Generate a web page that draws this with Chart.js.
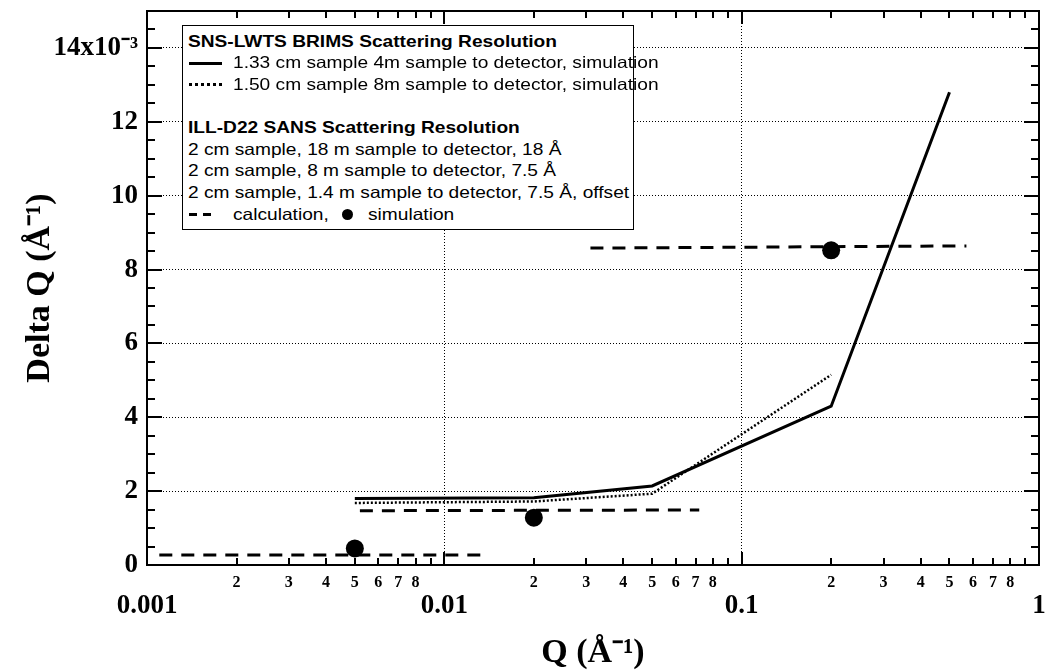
<!DOCTYPE html>
<html>
<head>
<meta charset="utf-8">
<script src="https://cdn.jsdelivr.net/npm/chart.js@4.4.1/dist/chart.umd.min.js"></script>
<style>
html,body{margin:0;padding:0;background:#fff;}
#wrap{position:relative;width:1048px;height:670px;overflow:hidden;}
canvas{display:block;}
#legend{position:absolute;left:182px;top:25px;width:452px;height:205px;border:1.5px solid #000;background:#fff;box-sizing:border-box;
  font-family:'Liberation Sans',Arial,sans-serif;font-size:16.5px;color:#000;}
#legend .t{position:absolute;height:21.6px;line-height:21.6px;white-space:nowrap;transform:scaleX(1.16);transform-origin:0 50%;}
#legend .b{font-weight:bold;}
#legend .ln{position:absolute;height:0;}
#legend .dot{position:absolute;width:11px;height:11px;border-radius:50%;background:#000;}
</style>
</head>
<body>
<div id="wrap">
<canvas id="c" width="1048" height="670"></canvas>
<div id="legend">
  <span class="t b" style="left:4.5px;top:4.7px">SNS-LWTS BRIMS Scattering Resolution</span>
  <span class="ln" style="left:5.5px;top:35.6px;width:33px;border-top:3px solid #000"></span>
  <span class="t" style="left:49.5px;top:26.3px">1.33 cm sample 4m sample to detector, simulation</span>
  <span class="ln" style="left:5.5px;top:57.2px;width:33px;border-top:3px dotted #000"></span>
  <span class="t" style="left:49.5px;top:47.9px">1.50 cm sample 8m sample to detector, simulation</span>
  <span class="t b" style="left:4.5px;top:91.1px">ILL-D22 SANS Scattering Resolution</span>
  <span class="t" style="left:4.5px;top:112.7px">2 cm sample, 18 m sample to detector, 18 Å</span>
  <span class="t" style="left:4.5px;top:134.3px">2 cm sample, 8 m sample to detector, 7.5 Å</span>
  <span class="t" style="left:4.5px;top:155.9px">2 cm sample, 1.4 m sample to detector, 7.5 Å, offset</span>
  <span class="ln" style="left:5.5px;top:186.8px;width:8px;border-top:3px solid #000"></span>
  <span class="ln" style="left:19.5px;top:186.8px;width:8px;border-top:3px solid #000"></span>
  <span class="t" style="left:49.5px;top:177.5px">calculation,</span>
  <span class="dot" style="left:159px;top:182.8px"></span>
  <span class="t" style="left:184.5px;top:177.5px">simulation</span>
</div>
</div>
<script>
// ---- data (Q in 1/Å, Delta Q in 1/Å) ----
const solidQ  = [0.005, 0.02, 0.05, 0.2, 0.5];
const solidDQ = [1.80e-3, 1.82e-3, 2.14e-3, 4.30e-3, 12.8e-3];

const dottedQ  = [0.005, 0.02, 0.05, 0.2];
const dottedDQ = [1.68e-3, 1.72e-3, 1.93e-3, 5.15e-3];

const calc18Q  = [0.0011, 0.0135];
const calc18DQ = [0.27e-3, 0.27e-3];
const calc8Q   = [0.0052, 0.072];
const calc8DQ  = [1.47e-3, 1.49e-3];
const calc14Q  = [0.031, 0.57];
const calc14DQ = [8.58e-3, 8.64e-3];

const simQ  = [0.005, 0.02, 0.2];
const simDQ = [0.45e-3, 1.28e-3, 8.52e-3];

// ---- ticks ----
const xDecades     = [0.001, 0.01, 0.1];
const xMajorLabels = ['0.001', '0.01', '0.1', '1'];
const xMinorLabels = ['2', '3', '4', '5', '6', '7', '8', ''];
const yTickLabels  = ['0', '2', '4', '6', '8', '10', '12', '14x10\u207B\u00B3'];

const X_MIN = 0.001, X_MAX = 1, Y_MIN = 0, Y_MAX = 0.015, Y_STEP = 0.0005;

const pts = (xs, ys) => xs.map((v, i) => ({x: v, y: ys[i]}));

const xTicks = [];
const xLabels = [];
xDecades.forEach((d, di) => {
  xTicks.push({value: d, major: true});
  xLabels.push(['', xMajorLabels[di]]);
  for (let m = 2; m <= 9; m++) {
    xTicks.push({value: +(m * d).toPrecision(6), major: false});
    xLabels.push(xMinorLabels[m - 2]);
  }
});
xTicks.push({value: X_MAX, major: true});
xLabels.push(['', xMajorLabels[3]]);

const yTicks = [];
for (let k = 0; k * Y_STEP <= Y_MAX + 1e-12; k++) yTicks.push({value: +(k * Y_STEP).toPrecision(6), major: k % 4 === 0});

const SERIF = "'Liberation Serif','Times New Roman',serif";

const frameTicks = {
  id: 'frameTicks',
  afterDraw(chart) {
    const ctx = chart.ctx;
    const a = chart.chartArea;
    const x = chart.scales.x, y = chart.scales.y;
    ctx.save();
    ctx.setLineDash([]);
    ctx.strokeStyle = '#000';
    ctx.lineWidth = 2;
    ctx.beginPath();
    xTicks.forEach(t => {
      if (t.value <= X_MIN * 1.0001 || t.value >= X_MAX * 0.9999) return;
      const px = Math.round(x.getPixelForValue(t.value));
      const len = t.major ? 13 : 7;
      ctx.moveTo(px, a.bottom); ctx.lineTo(px, a.bottom - len);
      ctx.moveTo(px, a.top); ctx.lineTo(px, a.top + len);
    });
    yTicks.forEach((t, i) => {
      if (i === 0 || t.value >= Y_MAX - 1e-9) return;
      const py = Math.round(y.getPixelForValue(t.value));
      const len = (i % 4 === 0) ? 15 : 8;
      ctx.moveTo(a.left, py); ctx.lineTo(a.left + len, py);
      ctx.moveTo(a.right, py); ctx.lineTo(a.right - len, py);
    });
    ctx.stroke();
    ctx.strokeRect(a.left, a.top, a.right - a.left, a.bottom - a.top);
    ctx.restore();
  }
};

const lineDs = (label, xs, ys, w, dash) => ({
  label, data: pts(xs, ys), showLine: true, borderColor: '#000', backgroundColor: '#000',
  borderWidth: w, borderDash: dash, pointRadius: 0, tension: 0, fill: false, borderCapStyle: 'butt'
});

new Chart(document.getElementById('c'), {
  type: 'scatter',
  data: {
    datasets: [
      lineDs('1.33 cm sample 4m', solidQ, solidDQ, 3, []),
      lineDs('1.50 cm sample 8m', dottedQ, dottedDQ, 2.5, [2, 2]),
      lineDs('calc 18 m', calc18Q, calc18DQ, 3, [13, 9]),
      lineDs('calc 8 m', calc8Q, calc8DQ, 3, [13, 9]),
      lineDs('calc 1.4 m', calc14Q, calc14DQ, 3, [13, 9]),
      {label: 'simulation', data: pts(simQ, simDQ), showLine: false, pointRadius: 9,
       pointBackgroundColor: '#000', pointBorderColor: '#000', pointBorderWidth: 0}
    ]
  },
  options: {
    responsive: false,
    animation: false,
    devicePixelRatio: 1,
    layout: {padding: {left: 0, top: 11, right: 2, bottom: 0}},
    plugins: {legend: {display: false}, tooltip: {enabled: false}},
    scales: {
      x: {
        type: 'logarithmic', min: X_MIN, max: X_MAX,
        afterBuildTicks: s => { s.ticks = xTicks.map(t => ({value: t.value, major: t.major})); },
        afterFit: s => { s.height = 105; s.paddingLeft = 0; s.paddingRight = 0; },
        ticks: {
          autoSkip: false, maxRotation: 0, minRotation: 0, padding: 8, color: '#000',
          callback: (v, i) => xLabels[i],
          font: c => (c.tick && c.tick.major)
            ? {family: SERIF, size: 27, weight: 'bold', lineHeight: 0.815}
            : {family: SERIF, size: 16, weight: 'bold', lineHeight: 1.2}
        },
        grid: {
          drawTicks: false, lineWidth: 1,
          color: c => (c.tick && c.tick.major && c.tick.value > 0.0011 && c.tick.value < 0.9) ? '#000' : 'rgba(0,0,0,0)'
        },
        border: {display: true, color: '#000', width: 2, dash: [1, 2]},
        title: {display: true, text: 'Q (\u00C5\u207B\u00B9)', color: '#000',
                font: {family: SERIF, size: 34, weight: 'bold', lineHeight: 1}, padding: {top: 0, bottom: 0}}
      },
      y: {
        type: 'linear', min: Y_MIN, max: Y_MAX,
        afterBuildTicks: s => { s.ticks = yTicks.map(t => ({value: t.value, major: t.major})); },
        afterFit: s => { s.width = 147; s.paddingTop = 0; s.paddingBottom = 0; },
        ticks: {
          autoSkip: false, padding: 9, color: '#000',
          callback: (v, i) => (i % 4 === 0 ? yTickLabels[i / 4] : ''),
          font: {family: SERIF, size: 27, weight: 'bold', lineHeight: 1.2}
        },
        grid: {
          drawTicks: false, lineWidth: 1,
          color: c => (c.index > 0 && c.index % 4 === 0) ? '#000' : 'rgba(0,0,0,0)'
        },
        border: {display: true, color: '#000', width: 2, dash: [1, 2]},
        title: {display: true, text: 'Delta Q (\u00C5\u207B\u00B9)', color: '#000',
                font: {family: SERIF, size: 34, weight: 'bold', lineHeight: 1}, padding: {top: 23, bottom: 0}}
      }
    }
  },
  plugins: [frameTicks]
});
</script>
</body>
</html>
